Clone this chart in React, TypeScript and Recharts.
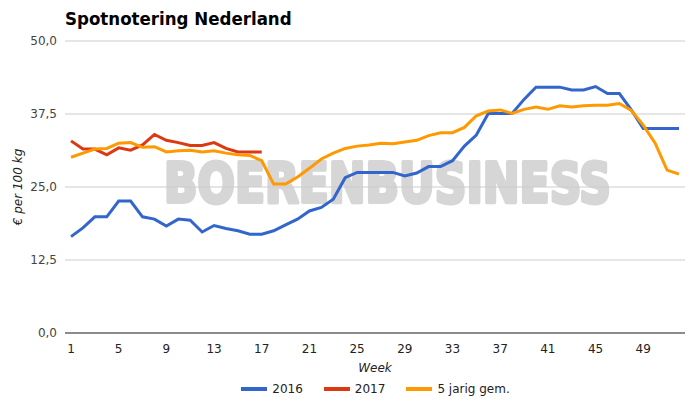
import React from 'react';
import { LineChart, Line, XAxis, YAxis, CartesianGrid, Legend } from 'recharts';

const weeks = [
  '1', '2', '3', '4', '5', '6', '7', '8', '9', '10', '11', '12', '13',
  '14', '15', '16', '17', '18', '19', '20', '21', '22', '23', '24', '25', '26',
  '27', '28', '29', '30', '31', '32', '33', '34', '35', '36', '37', '38', '39',
  '40', '41', '42', '43', '44', '45', '46', '47', '48', '49', '50', '51', '52',
];

const prices2016 = [
  16.5, 18.0, 19.9, 19.9, 22.6, 22.6, 19.9, 19.5, 18.3, 19.5,
  19.3, 17.3, 18.4, 17.9, 17.5, 16.9, 16.9, 17.5, 18.5, 19.5,
  20.9, 21.5, 22.9, 26.6, 27.5, 27.5, 27.5, 27.5, 26.9, 27.4,
  28.5, 28.5, 29.5, 32.0, 33.9, 37.6, 37.6, 37.6, 40.0, 42.1,
  42.1, 42.1, 41.6, 41.6, 42.2, 41.0, 41.0, 38.2, 35.0, 35.0,
  35.0, 35.0,
];

const prices2017 = [
  32.9, 31.5, 31.5, 30.5, 31.7, 31.3, 32.2, 34.0, 33.0, 32.6,
  32.1, 32.1, 32.6, 31.6, 31.0, 31.0, 31.0,
];

const avg5yr = [
  30.1, 30.8, 31.5, 31.6, 32.5, 32.6, 31.8, 31.9, 31.0, 31.2,
  31.3, 31.0, 31.2, 30.8, 30.5, 30.4, 29.5, 25.5, 25.5, 26.7,
  28.2, 29.8, 30.8, 31.6, 32.0, 32.2, 32.5, 32.4, 32.7, 33.0,
  33.8, 34.3, 34.3, 35.2, 37.2, 38.0, 38.2, 37.6, 38.3, 38.7,
  38.3, 38.9, 38.7, 38.9, 39.0, 39.0, 39.3, 38.1, 35.6, 32.5,
  27.9, 27.2,
];

const yTicks = [0, 12.5, 25, 37.5, 50];

const data = weeks.map((w, i) => ({
  week: w,
  y2016: prices2016[i],
  y2017: i < prices2017.length ? prices2017[i] : null,
  avg: avg5yr[i],
}));

const FONT = '"DejaVu Sans", sans-serif';
const TITLE_FONT = '"DejaVu Sans Condensed", "DejaVu Sans", sans-serif';

const legendItems = [
  { label: '2016', color: '#3366cc' },
  { label: '2017', color: '#dc3912' },
  { label: '5 jarig gem.', color: '#ff9900' },
];

const renderLegend = () => (
  <div style={{ display: 'flex', justifyContent: 'center', alignItems: 'center', paddingLeft: 58, paddingTop: 4, fontFamily: FONT, fontSize: 12, color: '#222' }}>
    {legendItems.map((item, i) => (
      <div key={item.label} style={{ display: 'flex', alignItems: 'center', marginRight: i < legendItems.length - 1 ? 21 : 0 }}>
        <div style={{ width: 26, height: 4, background: item.color, marginRight: 5 }} />
        <span>{item.label}</span>
      </div>
    ))}
  </div>
);

export default function App() {
  return (
    <div style={{ position: 'absolute', left: 0, top: 0, width: 700, height: 405, background: '#fff', fontFamily: FONT }}>
      <div style={{ position: 'absolute', left: 65, top: 8, fontSize: 18.5, fontWeight: 'bold', color: '#000', fontFamily: TITLE_FONT }}>
        Spotnotering Nederland
      </div>
      {/* watermark, sits under the grid and lines */}
      <svg width={700} height={405} style={{ position: 'absolute', left: 0, top: 0 }}>
        <g transform="translate(164,202) scale(1,1.15)">
          <text
            x={0}
            y={0}
            textLength={447}
            lengthAdjust="spacingAndGlyphs"
            fontFamily={FONT}
            fontWeight="bold"
            fontSize={48}
            fill="#d6d6d6"
            stroke="#d6d6d6"
            strokeWidth={3.5}
            strokeLinejoin="round"
          >
            BOERENBUSINESS
          </text>
        </g>
      </svg>
      <div style={{ position: 'absolute', left: 0, top: 0 }}>
        <LineChart width={700} height={405} data={data} margin={{ top: 41, right: 15, left: 8, bottom: 5 }}>
          <CartesianGrid vertical={false} stroke="#cccccc" />
          <XAxis
            dataKey="week"
            interval={3}
            tickLine={false}
            tickMargin={5}
            axisLine={{ stroke: '#333333' }}
            height={45}
            padding={{ left: 6, right: 6 }}
            tick={{ fill: '#222', fontSize: 12, fontFamily: FONT }}
            label={{ value: 'Week', position: 'insideBottom', offset: 6, fill: '#222', fontSize: 12, fontStyle: 'italic', fontFamily: FONT }}
          />
          <YAxis
            domain={[0, 50]}
            ticks={yTicks}
            width={57}
            axisLine={false}
            tickLine={false}
            tickFormatter={(v: number) => v.toFixed(1).replace('.', ',')}
            tick={{ fill: '#444', fontSize: 12, fontFamily: FONT }}
            label={{ value: '€ per 100 kg', angle: -90, position: 'insideLeft', offset: 10, fill: '#222', fontSize: 12, fontStyle: 'italic', fontFamily: FONT, style: { textAnchor: 'middle' } }}
          />
          <Legend verticalAlign="bottom" height={22} content={renderLegend} />
          <Line type="linear" dataKey="y2016" stroke="#3366cc" strokeWidth={3} dot={false} isAnimationActive={false} />
          <Line type="linear" dataKey="y2017" stroke="#dc3912" strokeWidth={3} dot={false} isAnimationActive={false} />
          <Line type="linear" dataKey="avg" stroke="#ff9900" strokeWidth={3} dot={false} isAnimationActive={false} />
        </LineChart>
      </div>
    </div>
  );
}
